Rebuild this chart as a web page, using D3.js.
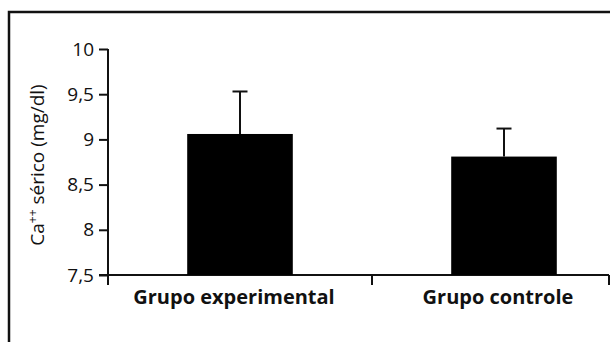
<!DOCTYPE html>
<meta charset="utf-8">
<style>

body {
  margin: 0;
  background: #fff;
}

text {
  font-family: "Open Sans", "Noto Sans", sans-serif;
  fill: #111;
}

.axis path, .axis line {
  stroke: #111;
  stroke-width: 2px;
  fill: none;
}

.bar {
  fill: #000;
}

.err {
  stroke: #111;
  stroke-width: 2px;
}

</style>
<body>
<script src="https://cdn.jsdelivr.net/npm/d3@7"></script>
<script>

var grupos = ["Grupo experimental", "Grupo controle"];
var medias = [9.06, 8.81];
var desvios = [0.47, 0.31];
var yTicks = [7.5, 8, 8.5, 9, 9.5, 10];

var width = 610, height = 342;
var axisLeft = 108, axisRight = 609;

var svg = d3.select("body").append("svg")
    .attr("width", width)
    .attr("height", height)
    .style("display", "block");

// frame round the figure (cut off on the right and bottom)
svg.append("rect")
    .attr("x", 9)
    .attr("y", 12)
    .attr("width", 640)
    .attr("height", 400)
    .attr("fill", "none")
    .attr("stroke", "#111")
    .attr("stroke-width", 2.5);

var y = d3.scaleLinear()
    .domain([7.5, 10])
    .range([275, 49]);

var x = d3.scaleBand()
    .domain(grupos)
    .range([axisLeft, 636]);

var yAxis = svg.append("g")
    .attr("class", "axis")
    .attr("transform", "translate(" + axisLeft + ",0)")
    .call(d3.axisLeft(y)
      .tickValues(yTicks)
      .tickSize(9)
      .tickPadding(5)
      .tickFormat(function(d) { return String(d).replace(".", ","); }));

yAxis.select(".domain").attr("d", "M0," + y(10) + "V" + (y(7.5) + 1));
yAxis.selectAll(".tick text")
    .style("font-size", "19px")
    .attr("fill", "#111");

// x axis: baseline plus boundary ticks
var xAxis = svg.append("g").attr("class", "axis");
xAxis.append("line")
    .attr("x1", axisLeft - 9)
    .attr("x2", axisRight)
    .attr("y1", y(7.5))
    .attr("y2", y(7.5));

var bounds = grupos.map(function(d) { return x(d); }).concat([axisRight]);
xAxis.selectAll(".xtick")
    .data(bounds)
  .enter().append("line")
    .attr("class", "xtick")
    .attr("x1", function(d) { return d; })
    .attr("x2", function(d) { return d; })
    .attr("y1", y(7.5))
    .attr("y2", y(7.5) + 10);

var barW = x.bandwidth() * 0.4;

var data = grupos.map(function(g, i) {
  return { grupo: g, media: medias[i], dp: desvios[i] };
});

var bars = svg.selectAll(".grp")
    .data(data)
  .enter().append("g")
    .attr("class", "grp");

bars.append("line")
    .attr("class", "err")
    .attr("x1", function(d) { return x(d.grupo) + x.bandwidth() / 2; })
    .attr("x2", function(d) { return x(d.grupo) + x.bandwidth() / 2; })
    .attr("y1", function(d) { return y(d.media); })
    .attr("y2", function(d) { return y(d.media + d.dp); });

bars.append("line")
    .attr("class", "err")
    .attr("x1", function(d) { return x(d.grupo) + x.bandwidth() / 2 - 7.5; })
    .attr("x2", function(d) { return x(d.grupo) + x.bandwidth() / 2 + 7.5; })
    .attr("y1", function(d) { return y(d.media + d.dp); })
    .attr("y2", function(d) { return y(d.media + d.dp); });

bars.append("rect")
    .attr("class", "bar")
    .attr("x", function(d) { return x(d.grupo) + (x.bandwidth() - barW) / 2; })
    .attr("width", barW)
    .attr("y", function(d) { return y(d.media); })
    .attr("height", function(d) { return y(7.5) - y(d.media); });

bars.append("text")
    .attr("x", function(d) { return x(d.grupo) + x.bandwidth() / 2 - 6; })
    .attr("y", 304)
    .attr("text-anchor", "middle")
    .style("font-size", "20px")
    .style("font-weight", "bold")
    .text(function(d) { return d.grupo; });

// y title
var title = svg.append("text")
    .attr("transform", "translate(44,165) rotate(-90)")
    .attr("text-anchor", "middle")
    .style("font-size", "19px");
title.append("tspan").text("Ca");
title.append("tspan").attr("dy", -7).style("font-size", "12px").text("++");
title.append("tspan").attr("dy", 7).text(" sérico (mg/dl)");

</script>
</body>
